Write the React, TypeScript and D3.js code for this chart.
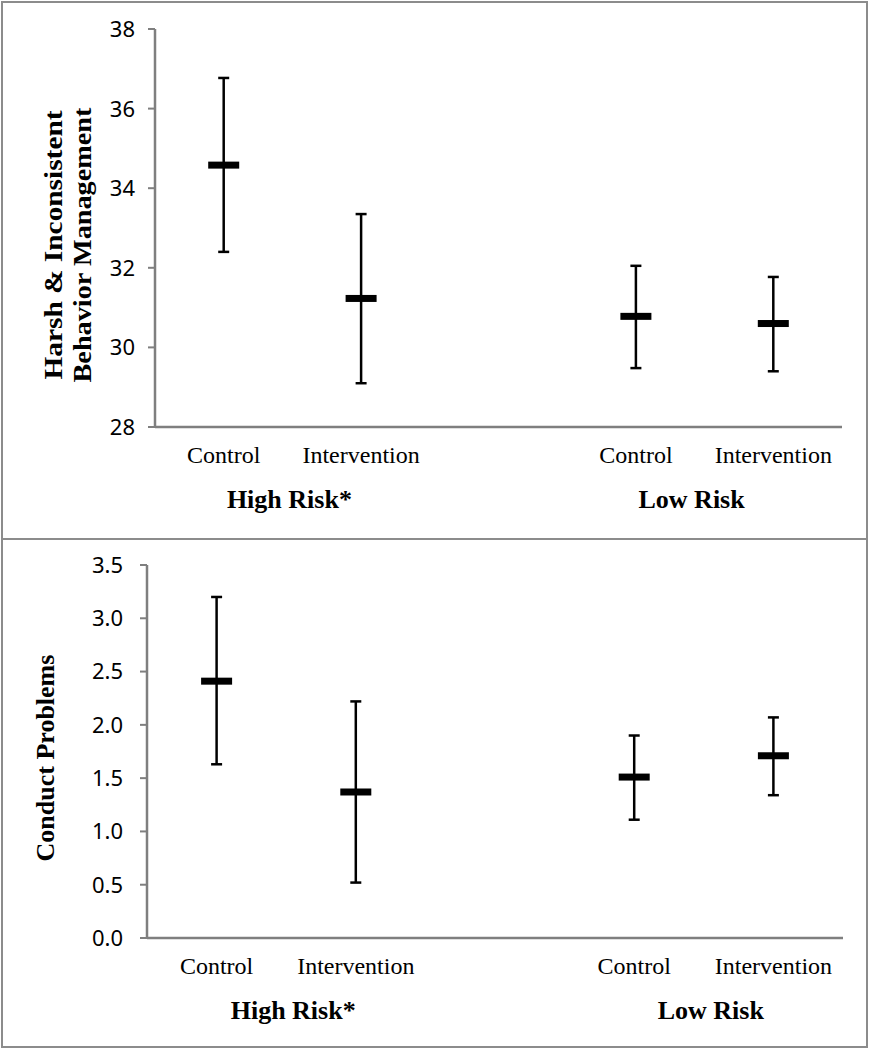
import React from "react";
import * as d3 from "d3";

// ---- Data ----
const conditions = ["Control", "Intervention"];
const groups = ["High Risk*", "Low Risk"];

// Top panel: Harsh & Inconsistent Behavior Management
const harshMean = [34.58, 31.23, 30.78, 30.6];
const harshLower = [32.4, 29.1, 29.48, 29.4];
const harshUpper = [36.77, 33.35, 32.05, 31.77];
const harshTicks = [28, 30, 32, 34, 36, 38];

// Bottom panel: Conduct Problems
const conductMean = [2.41, 1.37, 1.51, 1.71];
const conductLower = [1.63, 0.52, 1.11, 1.34];
const conductUpper = [3.2, 2.22, 1.9, 2.07];
const conductTicks = [0, 0.5, 1, 1.5, 2, 2.5, 3, 3.5];

// slot keys: group-condition with an empty slot between groups
const slots = ["HR-C", "HR-I", "gap", "LR-C", "LR-I"];
const pointSlots = ["HR-C", "HR-I", "LR-C", "LR-I"];

const W = 870;
const H = 1050;
const SERIF = "'Liberation Serif', 'Times New Roman', serif";
const SANS = "'Noto Sans', 'Open Sans', sans-serif";
const AXIS = "#7f7f7f";

type PanelProps = {
  top: number;
  bottom: number;
  axisX: number;
  axisRight: number;
  plotTop: number;
  plotBottom: number;
  domain: [number, number];
  ticks: number[];
  fmt: (v: number) => string;
  mean: number[];
  lower: number[];
  upper: number[];
  labelLines: string[];
  labelX: number[];
  labelY: number;
  labelLens: (number | null)[];
  groupOffsets: number[];
  tickLabelGap: number;
};

function Panel(p: PanelProps) {
  const x = d3.scaleBand<string>().domain(slots).range([p.axisX, p.axisRight]).padding(0);
  const y = d3.scaleLinear().domain(p.domain).range([p.plotBottom, p.plotTop]);
  const cx = (k: string) => (x(k) as number) + x.bandwidth() / 2;
  const groupCenters = [
    (cx("HR-C") + cx("HR-I")) / 2,
    (cx("LR-C") + cx("LR-I")) / 2,
  ];
  const capW = 11;
  const mW = 31;
  const mH = 7;
  return (
    <g>
      <rect
        x={2}
        y={p.top}
        width={W - 5}
        height={p.bottom - p.top}
        fill="#fff"
        stroke="#8c8c8c"
        strokeWidth={2}
      />
      {/* y axis */}
      <line x1={p.axisX} x2={p.axisX} y1={y(p.domain[1])} y2={y(p.domain[0])} stroke={AXIS} strokeWidth={2.5} />
      {p.ticks.map((t) => (
        <g key={t}>
          <line x1={p.axisX - 7} x2={p.axisX} y1={y(t)} y2={y(t)} stroke={AXIS} strokeWidth={2} />
          <text
            x={p.axisX - p.tickLabelGap}
            y={y(t)}
            dy="0.36em"
            textAnchor="end"
            fontFamily={SANS}
            fontSize={22}
            fill="#000"
          >
            {p.fmt(t)}
          </text>
        </g>
      ))}
      {/* x axis */}
      <line x1={p.axisX} x2={p.axisRight} y1={y(p.domain[0])} y2={y(p.domain[0])} stroke={AXIS} strokeWidth={2.5} />
      {/* category labels */}
      {pointSlots.map((k, i) => (
        <text
          key={k}
          x={cx(k)}
          y={y(p.domain[0]) + 36}
          textAnchor="middle"
          fontFamily={SERIF}
          fontSize={24}
          fill="#000"
        >
          {conditions[i % 2]}
        </text>
      ))}
      {groups.map((g, i) => (
        <text
          key={g}
          x={groupCenters[i] + p.groupOffsets[i]}
          y={y(p.domain[0]) + 81}
          textAnchor="middle"
          fontFamily={SERIF}
          fontWeight="bold"
          fontSize={26}
          fill="#000"
        >
          {g}
        </text>
      ))}
      {/* y label */}
      {p.labelLines.map((line, i) => (
        <text
          key={line}
          transform={`translate(${p.labelX[i]},${p.labelY}) rotate(-90)`}
          textAnchor="middle"
          dy="0.35em"
          fontFamily={SERIF}
          fontWeight="bold"
          fontSize={26}
          fill="#000"
          {...(p.labelLens[i] ? { textLength: p.labelLens[i] as number, lengthAdjust: "spacingAndGlyphs" } : {})}
        >
          {line}
        </text>
      ))}
      {/* error bars */}
      {pointSlots.map((k, i) => {
        const c = cx(k);
        return (
          <g key={k}>
            <line x1={c} x2={c} y1={y(p.upper[i])} y2={y(p.lower[i])} stroke="#000" strokeWidth={2.5} />
            <line x1={c - capW / 2} x2={c + capW / 2} y1={y(p.upper[i])} y2={y(p.upper[i])} stroke="#000" strokeWidth={2.5} />
            <line x1={c - capW / 2} x2={c + capW / 2} y1={y(p.lower[i])} y2={y(p.lower[i])} stroke="#000" strokeWidth={2.5} />
            <rect x={c - mW / 2} y={y(p.mean[i]) - mH / 2} width={mW} height={mH} fill="#000" />
          </g>
        );
      })}
    </g>
  );
}

export default function App() {
  return (
    <div style={{ position: "absolute", left: 0, top: 0, width: W, height: H, background: "#fff" }}>
      <svg width={W} height={H} viewBox={`0 0 ${W} ${H}`} style={{ display: "block" }}>
        <rect x={0} y={0} width={W} height={H} fill="#fff" />
        <Panel
          top={2}
          bottom={539}
          axisX={155}
          axisRight={842}
          plotTop={29}
          plotBottom={427}
          domain={[28, 38]}
          ticks={harshTicks}
          fmt={(v) => d3.format("d")(v)}
          mean={harshMean}
          lower={harshLower}
          upper={harshUpper}
          labelLines={["Harsh & Inconsistent", "Behavior Management"]}
          labelX={[53, 82]}
          labelY={245}
          labelLens={[269, 275]}
          groupOffsets={[-3, -13]}
          tickLabelGap={20}
        />
        <Panel
          top={539}
          bottom={1047}
          axisX={147}
          axisRight={843}
          plotTop={565}
          plotBottom={938}
          domain={[0, 3.5]}
          ticks={conductTicks}
          fmt={(v) => d3.format(".1f")(v)}
          mean={conductMean}
          lower={conductLower}
          upper={conductUpper}
          labelLines={["Conduct Problems"]}
          labelX={[45]}
          labelY={758}
          labelLens={[null]}
          groupOffsets={[7, 7]}
          tickLabelGap={24}
        />
      </svg>
    </div>
  );
}
